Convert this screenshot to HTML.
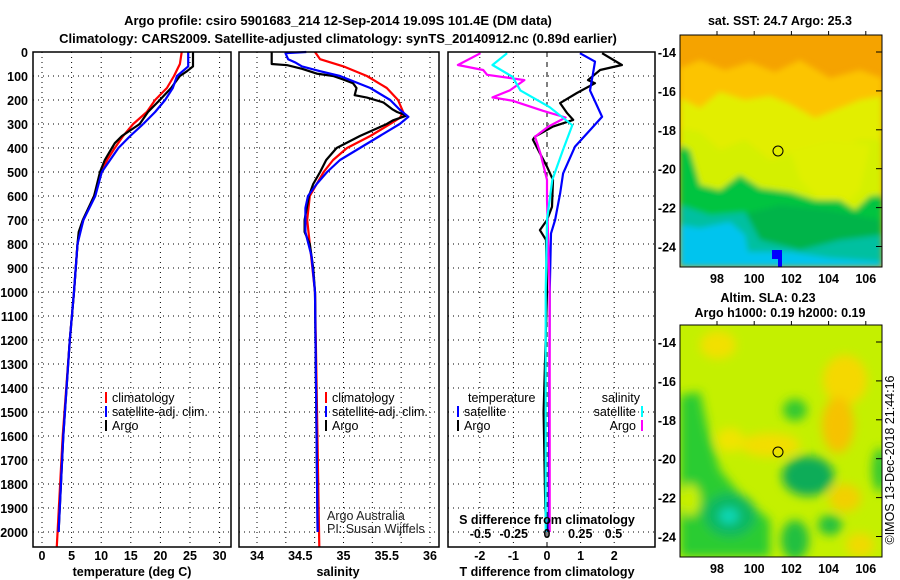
<!DOCTYPE html>
<html><head><meta charset="utf-8"><style>
body{margin:0;background:#fff;}
svg{display:block;font-family:"Liberation Sans",sans-serif;}
.b{font-weight:bold;font-size:13px;}
.t{font-weight:bold;font-size:12.5px;}
</style></head><body>
<svg id="chart" width="900" height="580" viewBox="0 0 900 580" xmlns="http://www.w3.org/2000/svg">
<defs>
<filter id="blurA" x="-5%" y="-5%" width="110%" height="110%"><feGaussianBlur stdDeviation="3"/></filter>
<filter id="blurB" x="-5%" y="-5%" width="110%" height="110%"><feGaussianBlur stdDeviation="5"/></filter>
<clipPath id="clipTop"><rect x="680" y="35" width="202" height="232"/></clipPath>
<clipPath id="clipBot"><rect x="680" y="325" width="202" height="232"/></clipPath>
</defs>
<text x="338" y="25" text-anchor="middle" class="b">Argo profile: csiro 5901683_214 12-Sep-2014 19.09S 101.4E (DM data)</text>
<text x="338" y="43" text-anchor="middle" class="b">Climatology: CARS2009. Satellite-adjusted climatology: synTS_20140912.nc (0.89d earlier)</text>

<!-- SST map -->
<g clip-path="url(#clipTop)">
<rect x="680" y="35" width="202" height="232" fill="#f5a300"/>
<g filter="url(#blurA)">
<polygon fill="#fcc400" points="680,68 700,60 725,70 750,62 775,72 800,60 830,78 860,70 882,78 882,267 680,267"/>
<polygon fill="#e2ee00" points="680,98 700,108 720,92 745,100 770,96 790,104 815,118 840,108 860,100 882,96 882,267 680,267"/>
<polygon fill="#d4f000" points="680,128 700,132 720,150 745,140 770,160 800,150 830,150 860,140 882,140 882,267 680,267"/>
<polygon fill="#e0f000" points="790,150 830,140 870,145 860,190 835,215 800,180"/>
<polygon fill="#00c440" points="680,145 690,150 700,185 720,190 740,175 760,188 790,192 815,200 840,200 855,210 870,196 882,195 882,267 680,267"/>
<polygon fill="#00b448" points="740,215 780,205 830,210 880,220 882,267 740,267"/>
<polygon fill="#00c0a0" points="680,205 710,215 745,212 760,240 800,250 840,240 882,235 882,267 680,267"/>
<polygon fill="#00c4ee" points="680,225 700,228 730,222 745,235 748,252 790,252 830,258 882,262 882,267 680,267"/>
</g>
<rect x="772" y="250" width="10" height="9" fill="#0000ff"/>
<rect x="778" y="259" width="4" height="8" fill="#0000ff"/>
<circle cx="778" cy="151" r="5" fill="none" stroke="#000" stroke-width="1"/>
</g>
<rect x="680" y="35" width="202" height="232" fill="none" stroke="#000"/>
<text x="780" y="25" text-anchor="middle" class="t">sat. SST: 24.7 Argo: 25.3</text>

<!-- SLA map -->
<g clip-path="url(#clipBot)">
<rect x="680" y="325" width="202" height="232" fill="#c4f000"/>
<g filter="url(#blurB)">
<ellipse cx="718" cy="345" rx="18" ry="14" fill="#f2e000"/>
<ellipse cx="845" cy="380" rx="22" ry="25" fill="#f5d800"/>
<ellipse cx="838" cy="425" rx="16" ry="28" fill="#f6c200"/>
<ellipse cx="770" cy="445" rx="30" ry="12" fill="#f2de00"/>
<ellipse cx="730" cy="440" rx="14" ry="12" fill="#f0e400"/>
<ellipse cx="845" cy="498" rx="16" ry="14" fill="#f2d000"/>
<ellipse cx="860" cy="545" rx="14" ry="12" fill="#f0da00"/>
<polygon fill="#2ccc30" points="680,395 700,392 708,430 720,470 745,500 770,520 770,557 680,557"/>
<ellipse cx="730" cy="515" rx="26" ry="22" fill="#10b860"/>
<ellipse cx="729" cy="516" rx="10" ry="8" fill="#10d8b8"/>
<ellipse cx="795" cy="410" rx="12" ry="11" fill="#30c830"/>
<ellipse cx="808" cy="476" rx="26" ry="20" fill="#10ac58"/>
<ellipse cx="795" cy="540" rx="14" ry="20" fill="#20c040"/>
<ellipse cx="830" cy="525" rx="12" ry="10" fill="#20c040"/>
<ellipse cx="880" cy="470" rx="8" ry="22" fill="#30c830"/>
<ellipse cx="690" cy="500" rx="10" ry="16" fill="#c8f000"/>
</g>
<circle cx="778" cy="452" r="5" fill="none" stroke="#000" stroke-width="1"/>
</g>
<rect x="680" y="325" width="202" height="232" fill="none" stroke="#000"/>
<text x="768" y="302" text-anchor="middle" class="t">Altim. SLA: 0.23</text>
<text x="780" y="317" text-anchor="middle" class="t">Argo h1000: 0.19 h2000: 0.19</text>
<text transform="translate(894,460) rotate(-90)" text-anchor="middle" font-size="12.5">©IMOS 13-Dec-2018 21:44:16</text>

<g id="dyn"></g>
</svg>
<script>
// ---- data ----
const depthTicks = [0,100,200,300,400,500,600,700,800,900,1000,1100,1200,1300,1400,1500,1600,1700,1800,1900,2000];
const tempTicks = [0,5,10,15,20,25,30];
const salTicks = [34,34.5,35,35.5,36];
const tdiffTicks = [-2,-1,0,1,2];
const sdiffTicks = [-0.5,-0.25,0,0.25,0.5];
const sdiffLabels = ["-0.5","-0.25","0","0.25","0.5"];
const latTicks = [-14,-16,-18,-20,-22,-24];
const lonTicks = [98,100,102,104,106];

const climTempDepth = [0,50,100,150,200,250,300,350,400,450,500,600,700,750,800,1000,1200,1600,2060];
const climTemp = [23.6,23.3,22.3,21.1,19.1,17.7,15.4,13.7,12.3,11,10.1,8.8,7,6.4,6.0,5.4,4.7,3.5,2.5];
const satTempDepth = [0,60,100,150,200,250,300,350,400,450,500,600,700,800,1000,1200,1600,2000];
const satTemp = [24.7,24.7,22.8,22.1,20.8,19.1,17.1,14.9,12.9,11.5,10.1,9,7,6,5.4,4.7,3.6,2.8];
const argoTempDepth = [0,60,80,100,150,200,250,300,350,380,400,450,500,600,700,750,800,1000,1200,1600,2000];
const argoTemp = [25.5,25.5,24.5,23.3,21.8,19.9,17.9,16.5,13.5,12.3,11.8,10.6,9.8,8.8,6.9,6.2,6.0,5.4,4.7,3.6,2.8];

const climSalDepth = [0,30,60,100,150,200,250,275,300,350,400,450,500,550,600,700,800,1000,2062];
const climSal = [34.67,34.73,35.0,35.27,35.5,35.63,35.69,35.65,35.54,35.31,35.04,34.88,34.77,34.69,34.61,34.58,34.61,34.67,34.72];
const satSalDepth = [0,5,30,45,60,80,100,150,200,240,270,300,350,400,450,500,550,600,650,750,850,1000,2000];
const satSal = [34.57,34.33,34.36,34.45,34.52,34.73,34.96,35.31,35.54,35.65,35.75,35.65,35.42,35.19,34.96,34.81,34.69,34.59,34.56,34.56,34.63,34.67,34.7];
const argoSalDepth = [0,50,55,70,90,100,115,130,150,180,190,210,240,250,265,285,300,350,400,450,500,550,600,700,750,800,900,1000,2000];
const argoSal = [34.17,34.17,34.35,34.52,34.69,34.88,35.0,35.11,35.15,35.13,35.27,35.46,35.57,35.62,35.73,35.57,35.5,35.19,34.92,34.8,34.73,34.65,34.6,34.55,34.55,34.61,34.65,34.67,34.7];

const argoTdiffDepth = [5,54,75,117,130,171,213,255,283,311,353,365,422,478,533,645,700,742,783,1000,1500,1900,2000];
const argoTdiff = [1.64,2.23,1.58,1.22,1.43,0.89,0.39,0.6,0.78,0.18,-0.36,-0.42,-0.21,0,0.18,0.15,0,-0.21,-0.03,0,-0.1,-0.05,0];
const satTdiffDepth = [5,40,90,160,270,395,506,590,700,756,1000,2000];
const satTdiff = [0.98,1.43,1.37,1.28,1.64,0.83,0.48,0.39,0.24,0.12,0.08,0.05];
const argoSdiffDepth = [5,54,75,95,117,160,189,203,245,273,311,353,422,533,617,1000,2000];
const argoSdiff = [-0.5,-0.67,-0.48,-0.45,-0.17,-0.28,-0.41,-0.26,-0.03,0.14,0.01,-0.09,-0.05,0,0,0.02,0.02];
const satSdiffDepth = [5,54,103,160,230,305,408,533,700,1000,2000];
const satSdiff = [-0.3,-0.41,-0.26,-0.2,0.02,0.19,0.12,0.04,0,-0.01,-0.01];

// ---- axes ----
const dy = d => 52 + d*0.24;
const tx = v => 42 + v*5.92;
const sx = v => 257 + (v-34)*86.5;
const tdx = v => 547 + v*33.6;
const sdx = v => 547 + v*133;
const latY = (l,top) => top + 17 + (-14 - l)*19.45;
const lonX = l => 717 + (l-98)*18.6;

const NS = "http://www.w3.org/2000/svg";
const root = document.getElementById('dyn');
function mk(tag, attrs, parent){
  const e = document.createElementNS(NS, tag);
  for (const k in attrs) e.setAttribute(k, attrs[k]);
  (parent||root).appendChild(e);
  return e;
}
const panels = [
  {name:'temperature-panel', x0:33, x1:231},
  {name:'salinity-panel', x0:239, x1:439},
  {name:'difference-panel', x0:448, x1:655}
];
const Y0 = 52, Y1 = 547;
panels.forEach(p => {
  const g = mk('g', {});
  
  
  p.g = g;
  depthTicks.forEach(d => {
    const l = mk('line', {x1:p.x0, x2:p.x1, y1:dy(d), y2:dy(d), stroke:'#000', 'stroke-width':1, 'stroke-dasharray':'1,4'}, g);
    
    
  });
});
depthTicks.forEach(d => {
  const t = mk('text', {x:28, y:dy(d)+5, 'text-anchor':'end', class:'t'});
  
  
  t.textContent = d;
});
function vgrid(p, xs){
  xs.forEach(x => {
    const l = mk('line', {x1:x, x2:x, y1:Y0, y2:Y1, stroke:'#000', 'stroke-width':1, 'stroke-dasharray':'1,4'}, p.g);
    
    
  });
}
vgrid(panels[0], tempTicks.map(tx));
vgrid(panels[1], [0,1,2,3,4,5,6].map(k => sx(34 + k/3)));
vgrid(panels[2], tdiffTicks.filter(v => v!==0).map(tdx));
const zl = mk('line', {x1:547, x2:547, y1:Y0, y2:Y1, stroke:'#000', 'stroke-width':1, 'stroke-dasharray':'5,5'}, panels[2].g);



function tickLabels(ticks, fx, labels, y, name){
  ticks.forEach((v,i) => {
    const t = mk('text', {x:fx(v), y:y, 'text-anchor':'middle', class:'t'});
    
    
    t.textContent = labels ? labels[i] : v;
  });
}
tickLabels(tempTicks, tx, null, 560, 'temperature-tick-label');
tickLabels(salTicks, sx, null, 560, 'salinity-tick-label');
tickLabels(tdiffTicks, tdx, null, 560, 'tdiff-tick-label');
tickLabels(sdiffTicks, sdx, sdiffLabels, 538, 'sdiff-tick-label');

function axisTitle(x, y, txt, name){
  const t = mk('text', {x:x, y:y, 'text-anchor':'middle', class:'t'});
  
  
  t.textContent = txt;
}
axisTitle(132, 576, 'temperature (deg C)', 'x-axis-title-temperature');
axisTitle(338, 576, 'salinity', 'x-axis-title-salinity');
axisTitle(547, 576, 'T difference from climatology', 'x-axis-title-tdiff');
axisTitle(547, 524, 'S difference from climatology', 'sdiff-axis-title');

[35, 325].forEach((top, mi) => {
  latTicks.forEach(l => {
    const y = latY(l, top);
    const t = mk('text', {x:676, y:y+5, 'text-anchor':'end', class:'t'});
    
    
    t.textContent = l;
    const tk = mk('line', {x1:876, x2:882, y1:y, y2:y, stroke:'#000'});
    
    
  });
  lonTicks.forEach(l => {
    const t = mk('text', {x:lonX(l), y:top+248, 'text-anchor':'middle', class:'t'});
    
    
    t.textContent = l;
    const tk = mk('line', {x1:lonX(l), x2:lonX(l), y1:top-4, y2:top, stroke:'#000'});
    
    
  });
});

function series(p, depths, vals, fx, color, name){
  const pts = depths.map((d,i) => fx(vals[i]).toFixed(1)+','+Math.min(dy(d),Y1).toFixed(1)).join(' ');
  const pl = mk('polyline', {points:pts, fill:'none', stroke:color, 'stroke-width':2.2, 'stroke-linejoin':'round'}, p.g);
  
  
}
series(panels[0], climTempDepth, climTemp, tx, '#ff0000', 'climatology-temperature-line');
series(panels[0], argoTempDepth, argoTemp, tx, '#000000', 'argo-temperature-line');
series(panels[0], satTempDepth, satTemp, tx, '#0000ff', 'satellite-temperature-line');
series(panels[1], climSalDepth, climSal, sx, '#ff0000', 'climatology-salinity-line');
series(panels[1], argoSalDepth, argoSal, sx, '#000000', 'argo-salinity-line');
series(panels[1], satSalDepth, satSal, sx, '#0000ff', 'satellite-salinity-line');
series(panels[2], argoTdiffDepth, argoTdiff, tdx, '#000000', 'argo-tdiff-line');
series(panels[2], satTdiffDepth, satTdiff, tdx, '#0000ff', 'satellite-tdiff-line');
series(panels[2], argoSdiffDepth, argoSdiff, sdx, '#ff00ff', 'argo-sdiff-line');
series(panels[2], satSdiffDepth, satSdiff, sdx, '#00ffff', 'satellite-sdiff-line');

panels.forEach(p => {
  const r = mk('rect', {x:p.x0, y:Y0, width:p.x1-p.x0, height:Y1-Y0, fill:'none', stroke:'#000', 'stroke-width':1.5});
  
  
});

function legendEntry(x, y, color, label, name, anchor){
  const g = mk('g', {});
  
  
  const bx = anchor==='end' ? x+4 : x;
  mk('line', {x1:bx, x2:bx, y1:y-10, y2:y+1, stroke:color, 'stroke-width':2}, g);
  const t = mk('text', {x: anchor==='end' ? x-2 : x+6, y:y, 'text-anchor': anchor||'start', 'font-size':12.5}, g);
  t.textContent = label;
}
legendEntry(106, 402, '#ff0000', 'climatology', 'legend-entry-climatology');
legendEntry(106, 416, '#0000ff', 'satellite-adj. clim.', 'legend-entry-satellite');
legendEntry(106, 430, '#000000', 'Argo', 'legend-entry-argo');
legendEntry(326, 402, '#ff0000', 'climatology', 'legend-entry-climatology-sal');
legendEntry(326, 416, '#0000ff', 'satellite-adj. clim.', 'legend-entry-satellite-sal');
legendEntry(326, 430, '#000000', 'Argo', 'legend-entry-argo-sal');
const lt = mk('text', {x:468, y:402, 'font-size':12.5});


lt.textContent = 'temperature';
const ls = mk('text', {x:640, y:402, 'text-anchor':'end', 'font-size':12.5});


ls.textContent = 'salinity';
legendEntry(458, 416, '#0000ff', 'satellite', 'legend-entry-sat-tdiff');
legendEntry(458, 430, '#000000', 'Argo', 'legend-entry-argo-tdiff');
legendEntry(638, 416, '#00ffff', 'satellite', 'legend-entry-sat-sdiff', 'end');
legendEntry(638, 430, '#ff00ff', 'Argo', 'legend-entry-argo-sdiff', 'end');

const c1 = mk('text', {x:327, y:520, 'font-size':12.5, fill:'#222'});


c1.textContent = 'Argo Australia';
const c2 = mk('text', {x:327, y:533, 'font-size':12.5, fill:'#222'});


c2.textContent = 'PI: Susan Wijffels';
</script>
</body></html>
